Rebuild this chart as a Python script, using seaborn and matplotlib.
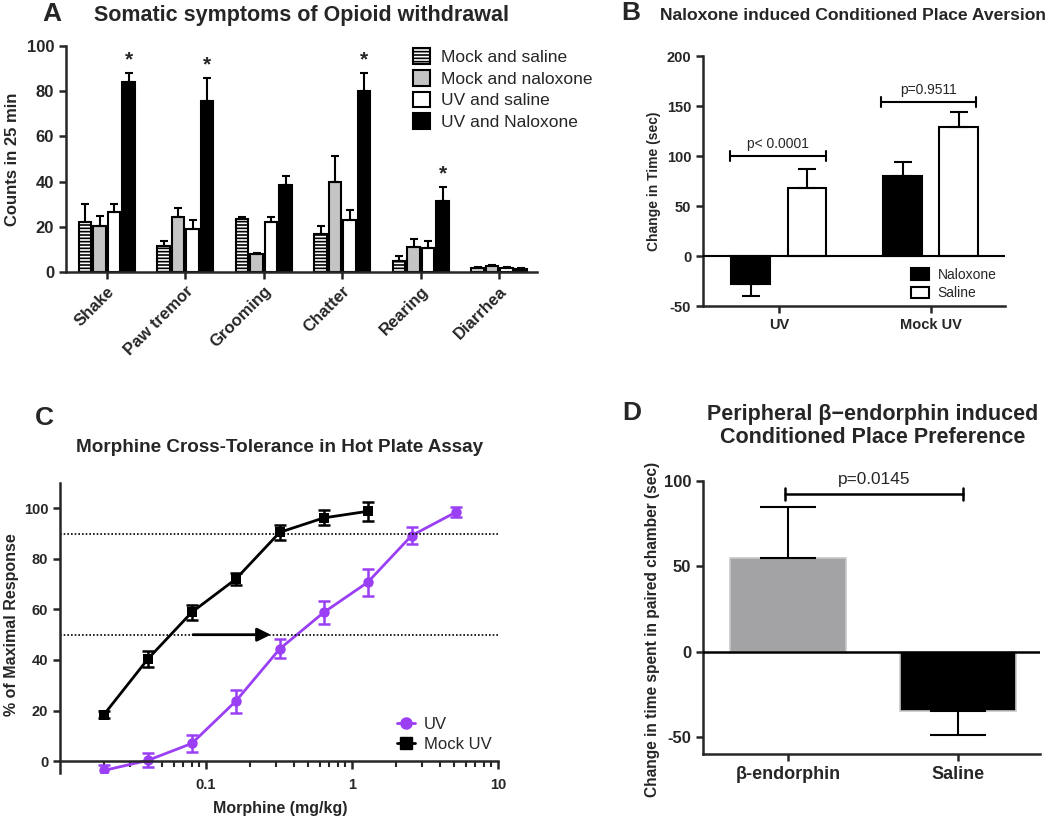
import pandas as pd
import seaborn as sns
import matplotlib.pyplot as plt
from matplotlib.lines import Line2D
from matplotlib.patches import Patch

# ---------------- data ----------------
# A: somatic withdrawal symptoms
symptoms = ['Shake', 'Paw tremor', 'Grooming', 'Chatter', 'Rearing', 'Diarrhea']
groups_a = ['Mock and saline', 'Mock and naloxone', 'UV and saline', 'UV and Naloxone']
mock_saline = [22, 11.5, 23.5, 17, 5, 1.8]
mock_saline_err = [8, 2, 1, 3.5, 2, 0.4]
mock_nalox = [20.5, 24.5, 8, 40, 11, 2.8]
mock_nalox_err = [4.5, 4, 0.5, 11.5, 3.5, 0.4]
uv_saline = [26.5, 19, 22, 23, 10.5, 1.6]
uv_saline_err = [3.5, 4, 2.5, 4.5, 3, 0.4]
uv_nalox = [84, 75.5, 38.5, 80, 31.5, 1.5]
uv_nalox_err = [4, 10.5, 4, 8, 6, 0.3]
signif = ['Shake', 'Paw tremor', 'Chatter', 'Rearing']

# B: naloxone CPA
groups_b = ['UV', 'Mock UV']
treat_b = ['Naloxone', 'Saline']
cpa_nalox = [-28, 80]
cpa_nalox_err = [12, 14]
cpa_saline = [68, 129]
cpa_saline_err = [19, 15]

# C: morphine hot plate
doses_uv = [0.02, 0.04, 0.08, 0.16, 0.32, 0.64, 1.28, 2.56, 5.12]
resp_uv = [-3.7, 0.3, 7.0, 23.7, 44.4, 58.8, 70.7, 89.2, 98.4]
sem_uv = [2.0, 2.8, 3.5, 4.5, 3.8, 4.4, 5.3, 3.5, 2.0]
doses_mock = [0.02, 0.04, 0.08, 0.16, 0.32, 0.64, 1.28]
resp_mock = [18.4, 40.4, 58.9, 72.0, 90.5, 96.2, 98.8]
sem_mock = [1.5, 3.0, 3.0, 2.5, 3.0, 3.0, 3.8]

# D: beta-endorphin CPP
groups_d = ['β-endorphin', 'Saline']
cpp = [55, -35]
cpp_err = [30, 14]

sns.set_style('ticks')
plt.rcParams['font.family'] = ['Liberation Sans', 'DejaVu Sans']
plt.rcParams['axes.unicode_minus'] = False
plt.rcParams['hatch.linewidth'] = 1.2
plt.rcParams['hatch.color'] = 'black'

W, H = 1050, 817
fig = plt.figure(figsize=(10.5, 8.17), dpi=100)


def box(l, t, r, b):
    return [l / W, 1 - b / H, (r - l) / W, (b - t) / H]


def ftext(x, y, s, **kw):
    kw.setdefault('ha', 'center')
    kw.setdefault('va', 'center')
    kw.setdefault('fontweight', 'bold')
    fig.text(x / W, 1 - y / H, s, **kw)


def style_axes(ax, size):
    for s in ['top', 'right']:
        ax.spines[s].set_visible(False)
    for s in ['left', 'bottom']:
        ax.spines[s].set_linewidth(1.8)
    ax.tick_params(width=1.8, length=5, labelsize=size, direction='out')
    for lab in ax.get_xticklabels() + ax.get_yticklabels():
        lab.set_fontweight('bold')


def up_err(ax, x, h, e, cap, lw=1.5):
    lo = 0
    ax.errorbar(x, h, yerr=[[lo], [e]] if h >= 0 else [[e], [lo]], fmt='none',
                ecolor='black', elinewidth=lw, capsize=cap, capthick=lw, zorder=4)


# ---------------- A ----------------
axA = fig.add_axes(box(66, 46, 537, 272))
vals = [mock_saline, mock_nalox, uv_saline, uv_nalox]
errs = [mock_saline_err, mock_nalox_err, uv_saline_err, uv_nalox_err]
df_a = pd.DataFrame({
    'symptom': symptoms * 4,
    'group': [g for g in groups_a for _ in symptoms],
    'count': sum(vals, []),
})
sns.barplot(data=df_a, x='symptom', y='count', hue='group', hue_order=groups_a,
            palette=['white', '#c4c4c4', 'white', 'black'], edgecolor='black',
            linewidth=1.5, width=0.74, gap=0.12, errorbar=None, legend=False, ax=axA)
bars_a = list(axA.containers)
for i, cont in enumerate(bars_a):
    for j, bar in enumerate(cont.patches):
        if i == 0:
            bar.set_hatch('-----')
        xc = bar.get_x() + bar.get_width() / 2
        up_err(axA, xc, bar.get_height(), errs[i][j], 3)
        if i == 3 and symptoms[j] in signif:
            axA.text(xc, bar.get_height() + errs[i][j] + 1.5, '*', ha='center', va='bottom',
                     fontsize=15, fontweight='bold')
axA.set_ylim(0, 100)
axA.set_xlim(-0.52, 5.48)
axA.set_yticks([0, 20, 40, 60, 80, 100])
axA.set_xlabel('')
axA.set_ylabel('Counts in 25 min', fontsize=12, fontweight='bold', labelpad=5)
style_axes(axA, 12)
axA.set_xticklabels(symptoms, rotation=45, ha='right', rotation_mode='anchor',
                    fontsize=12, fontweight='bold')
axA.legend(bars_a, groups_a, loc='upper left', bbox_to_anchor=(0.722, 1.02),
           frameon=False, fontsize=12.5, handlelength=1.0, handleheight=1.0,
           handletextpad=0.6, labelspacing=0.28, borderaxespad=0)
ftext(52, 14, 'A', fontsize=19)
ftext(302, 15, 'Somatic symptoms of Opioid withdrawal', fontsize=15.5)

# ---------------- B ----------------
axB = fig.add_axes(box(703, 56, 1005, 306))
df_b = pd.DataFrame({
    'group': groups_b * 2,
    'treat': [t for t in treat_b for _ in groups_b],
    'time': cpa_nalox + cpa_saline,
})
sns.barplot(data=df_b, x='group', y='time', hue='treat', hue_order=treat_b,
            palette=['black', 'white'], edgecolor='black', linewidth=1.5,
            width=0.74, gap=0.31, errorbar=None, legend=False, ax=axB)
errs_b = [cpa_nalox_err, cpa_saline_err]
bars_b = list(axB.containers)
for i, cont in enumerate(bars_b):
    for j, bar in enumerate(cont.patches):
        up_err(axB, bar.get_x() + bar.get_width() / 2, bar.get_height(), errs_b[i][j], 6.5)
axB.axhline(0, color='black', lw=1.5, zorder=3)
axB.set_ylim(-50, 200)
axB.set_xlim(-0.5, 1.49)
axB.set_yticks([-50, 0, 50, 100, 150, 200])
axB.set_xlabel('')
axB.set_ylabel('Change in Time (sec)', fontsize=10, fontweight='bold', labelpad=4)
style_axes(axB, 10.5)
axB.tick_params(axis='x', labelsize=10.5)
for lab in axB.get_xticklabels():
    lab.set_fontweight('bold')
for (x0, x1, y, txt) in [(-0.32, 0.31, 100, 'p< 0.0001'), (0.67, 1.3, 154, 'p=0.9511')]:
    axB.plot([x0, x1], [y, y], color='black', lw=1.5)
    axB.plot([x0, x0], [y - 5, y + 5], color='black', lw=1.5)
    axB.plot([x1, x1], [y - 5, y + 5], color='black', lw=1.5)
    axB.text((x0 + x1) / 2, y + 5, txt, ha='center', va='bottom', fontsize=10)
axB.legend(handles=[Patch(facecolor='black', edgecolor='black', lw=1.5),
                    Patch(facecolor='white', edgecolor='black', lw=1.5)],
           labels=treat_b, loc='lower right', bbox_to_anchor=(0.99, 0.0), frameon=False,
           fontsize=10, handlelength=1.3, handleheight=0.9, handletextpad=0.6,
           labelspacing=0.35, borderaxespad=0)
ftext(631, 13, 'B', fontsize=19)
ftext(853, 15, 'Naloxone induced Conditioned Place Aversion', fontsize=12.6)

# ---------------- C ----------------
purple = '#9b3ff5'
axC = fig.add_axes(box(60, 483, 498, 773))
df_c = pd.DataFrame({
    'dose': doses_uv + doses_mock,
    'resp': resp_uv + resp_mock,
    'group': ['UV'] * len(doses_uv) + ['Mock UV'] * len(doses_mock),
})
sns.lineplot(data=df_c, x='dose', y='resp', hue='group', style='group',
             markers={'UV': 'o', 'Mock UV': 's'}, dashes=False,
             palette={'UV': purple, 'Mock UV': 'black'}, markersize=7.5,
             markeredgewidth=0, linewidth=2, legend=False, ax=axC)
axC.errorbar(doses_uv, resp_uv, yerr=sem_uv, fmt='none', ecolor=purple, elinewidth=1.8,
             capsize=4, capthick=1.8)
axC.errorbar(doses_mock, resp_mock, yerr=sem_mock, fmt='none', ecolor='black', elinewidth=1.8,
             capsize=4, capthick=1.8)
axC.set_xscale('log')
axC.set_xlim(0.01, 10)
axC.set_ylim(-4.7, 110)
axC.axhline(90, color='black', lw=1.2, ls=(0, (1, 1.2)))
axC.axhline(50, color='black', lw=1.2, ls=(0, (1, 1.2)))
axC.annotate('', xy=(0.29, 50), xytext=(0.078, 50),
             arrowprops=dict(arrowstyle='-|>', color='black', lw=2, mutation_scale=20))
axC.spines['bottom'].set_position(('data', 0))
axC.set_yticks([0, 20, 40, 60, 80, 100])
axC.set_xticks([0.1, 1, 10])
axC.set_xticklabels(['0.1', '1', '10'])
axC.set_xticks([k * d for d in [0.01, 0.1, 1] for k in range(2, 10)], minor=True)
axC.set_xticklabels([], minor=True)
axC.set_xlabel('')
axC.set_ylabel('')
style_axes(axC, 10.5)
axC.tick_params(axis='x', which='minor', width=1.5, length=4)
axC.tick_params(axis='x', which='major', length=6, pad=6)
axC.legend(handles=[Line2D([], [], color=purple, marker='o', markersize=8, lw=2),
                    Line2D([], [], color='black', marker='s', markersize=8, lw=2)],
           labels=['UV', 'Mock UV'], loc='lower right', bbox_to_anchor=(1.0, 0.05),
           frameon=False, fontsize=12, handlelength=1.1,
           handletextpad=0.5, labelspacing=0.3, borderaxespad=0)
ftext(280, 808, 'Morphine (mg/kg)', fontsize=11.5)
ftext(12, 625, '% of Maximal Response', fontsize=11.5, rotation=90)
ftext(44, 418, 'C', fontsize=19)
ftext(280, 448, 'Morphine Cross-Tolerance in Hot Plate Assay', fontsize=13.6)

# ---------------- D ----------------
axD = fig.add_axes(box(703, 481, 1040, 754))
df_d = pd.DataFrame({'group': groups_d, 'time': cpp})
sns.barplot(data=df_d, x='group', y='time', hue='group', palette=['#a2a2a6', 'black'],
            edgecolor=['#c8c8c8', 'black'], linewidth=1.2, width=0.68, errorbar=None,
            legend=False, ax=axD)
for bar, e in zip(list(axD.patches), cpp_err):
    up_err(axD, bar.get_x() + bar.get_width() / 2, bar.get_height(), e, 20)
axD.axhline(0, color='black', lw=1.8, zorder=3)
axD.set_ylim(-60, 100)
axD.set_xlim(-0.5, 1.48)
axD.set_yticks([-50, 0, 50, 100])
axD.set_xlabel('')
axD.set_ylabel('')
style_axes(axD, 12)
axD.tick_params(axis='x', labelsize=13)
for lab in axD.get_xticklabels():
    lab.set_fontweight('bold')
x0, x1, y = -0.02, 1.03, 92.5
axD.plot([x0, x1], [y, y], color='black', lw=1.8)
axD.plot([x0, x0], [y - 3.5, y + 3.5], color='black', lw=1.8)
axD.plot([x1, x1], [y - 3.5, y + 3.5], color='black', lw=1.8)
axD.text((x0 + x1) / 2, y + 4, 'p=0.0145', ha='center', va='bottom', fontsize=12.4)
ftext(652, 629, 'Change in time spent in paired chamber (sec)', fontsize=11.2, rotation=90)
ftext(632, 413, 'D', fontsize=19)
ftext(873, 426, 'Peripheral β−endorphin induced\nConditioned Place Preference',
      fontsize=15.5, linespacing=1.1)

fig.savefig('out.png', dpi=100)
